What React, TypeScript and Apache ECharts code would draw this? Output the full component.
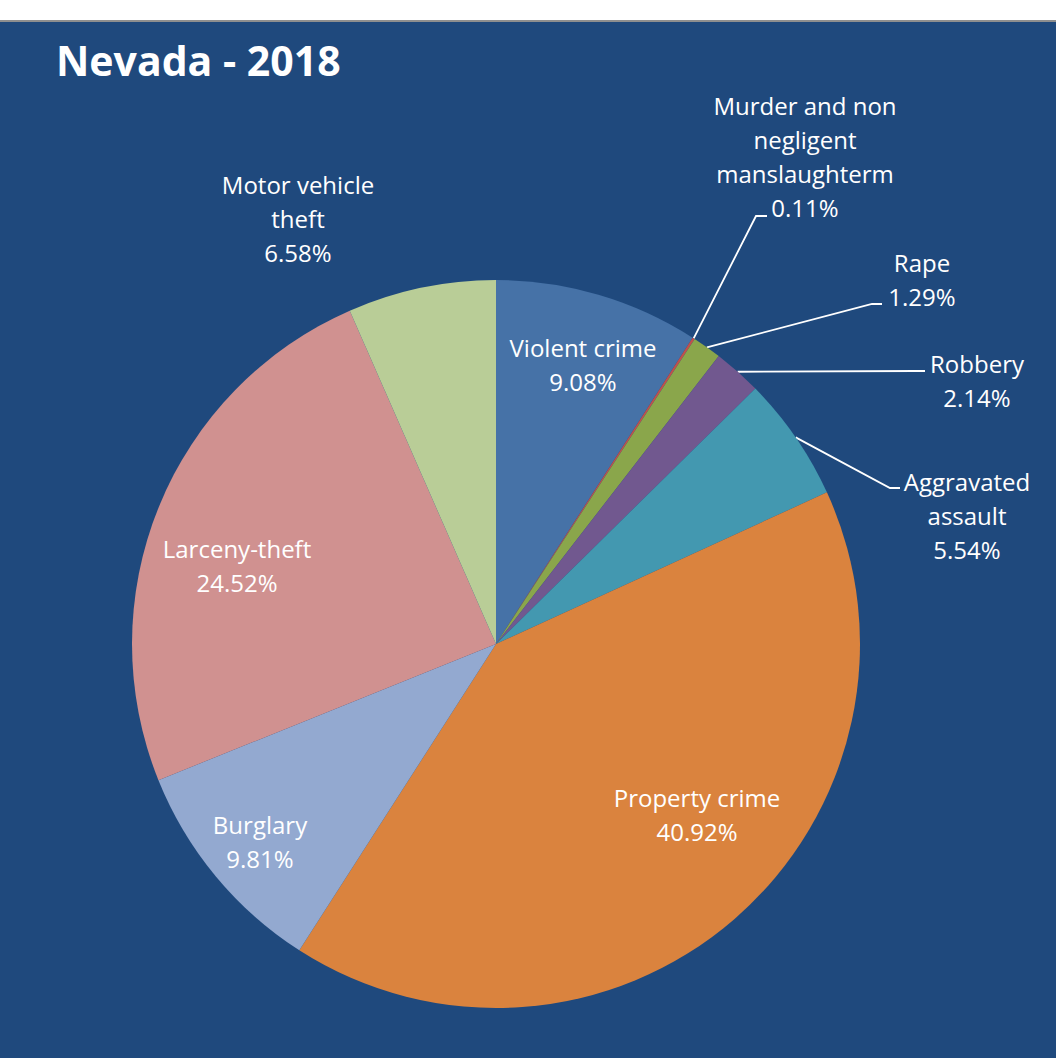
import React, { useEffect, useRef } from "react";
import * as echarts from "echarts";

const TITLE = "Nevada - 2018";
const CATEGORIES = [
  "Violent crime",
  "Murder and non\nnegligent\nmanslaughterm",
  "Rape",
  "Robbery",
  "Aggravated\nassault",
  "Property crime",
  "Burglary",
  "Larceny-theft",
  "Motor vehicle\ntheft",
];
const VALUES = [9.08, 0.11, 1.29, 2.14, 5.54, 40.92, 9.81, 24.52, 6.58];
const COLORS = [
  "#4672A7",
  "#C0504D",
  "#8AA64B",
  "#71588F",
  "#4398B0",
  "#DA833E",
  "#93A9D0",
  "#D09190",
  "#B9CD97",
];
const OUTSIDE = [false, true, true, true, true, false, false, false, false];

// label layout (text centre) and leader-line elbow/end points
const LABEL_POS: [number, number][] = [
  [583, 364],
  [805, 156],
  [922, 279],
  [977, 380],
  [967, 515],
  [697, 814],
  [260, 841],
  [237, 565],
  [298, 218],
];
const LEADER: ([number, number][] | null)[] = [
  null,
  [[756, 216], [767, 216]],
  [[872, 304], [882, 304]],
  [[915, 371], [925, 371]],
  [[890, 488], [900, 488]],
  null,
  null,
  null,
  [[347, 259], [337, 259]],
];

const CX = 496;
const CY = 644;
const R = 364;

export default function App() {
  const ref = useRef<HTMLDivElement>(null);
  useEffect(() => {
    if (!ref.current) return;
    const chart = echarts.init(ref.current, null, { renderer: "svg" });
    const total = VALUES.reduce((a, b) => a + b, 0);
    const edgePoint = (i: number): [number, number] => {
      let cum = 0;
      for (let k = 0; k < i; k++) cum += VALUES[k];
      const mid = ((cum + VALUES[i] / 2) / total) * Math.PI * 2;
      return [CX + R * Math.sin(mid), CY - R * Math.cos(mid)];
    };
    chart.setOption({
      animation: false,
      backgroundColor: "#ffffff",
      graphic: [
        { type: "rect", shape: { x: 0, y: 20, width: 1056, height: 2 }, style: { fill: "#8f8f8f" } },
        { type: "rect", shape: { x: 0, y: 22, width: 1056, height: 1036 }, style: { fill: "#1F497D" } },
        {
          type: "text",
          x: 56,
          y: 60,
          style: {
            text: TITLE,
            fill: "#ffffff",
            font: "bold 41px 'Open Sans'",
            verticalAlign: "middle",
          },
          z: 10,
        },
      ],
      series: [
        {
          type: "pie",
          center: [CX, CY],
          radius: R,
          startAngle: 90,
          clockwise: true,
          avoidLabelOverlap: false,
          data: CATEGORIES.map((name, i) => ({
            name,
            value: VALUES[i],
            itemStyle: { color: COLORS[i] },
            label: { position: OUTSIDE[i] ? "outside" : "inside" },
            labelLine: { show: OUTSIDE[i] },
          })),
          itemStyle: { borderWidth: 0 },
          label: {
            color: "#ffffff",
            fontFamily: "Open Sans",
            fontSize: 24,
            lineHeight: 34,
            align: "center",
            formatter: (p: any) => `${p.name}\n${Number(p.value).toFixed(2)}%`,
          },
          labelLine: { lineStyle: { color: "#ffffff", width: 1.8 } },
          labelLayout: (params: any) => {
            const i = params.dataIndex;
            const out: any = {
              x: LABEL_POS[i][0],
              y: LABEL_POS[i][1],
              align: "center",
              verticalAlign: "middle",
            };
            if (LEADER[i]) {
              out.labelLinePoints = [edgePoint(i), ...LEADER[i]!];
            }
            return out;
          },
          emphasis: { disabled: true },
        },
      ],
    });
    return () => chart.dispose();
  }, []);
  return (
    <div
      ref={ref}
      style={{ position: "fixed", left: 0, top: 0, width: 1056, height: 1058 }}
    />
  );
}
